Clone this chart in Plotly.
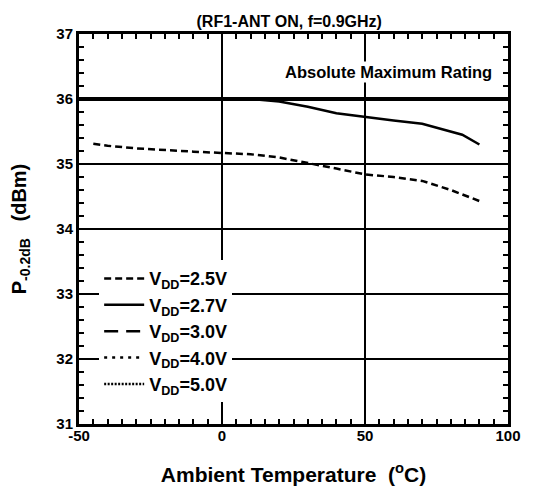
import plotly.graph_objects as go

# ---- data ----
temp_25 = [-45, -40, -30, -20, -10, 0, 10, 20, 30, 40, 50, 60, 70, 80, 90]
p_25 = [35.31, 35.28, 35.24, 35.21, 35.19, 35.17, 35.15, 35.10, 35.02, 34.93, 34.84, 34.80, 34.74, 34.60, 34.43]

temp_27 = [-45, -30, -15, 0, 10, 20, 30, 40, 50, 60, 70, 77, 84, 90]
p_27 = [36.0, 36.0, 36.0, 36.0, 36.0, 35.96, 35.88, 35.78, 35.72, 35.67, 35.62, 35.53, 35.45, 35.30]

temp_hi = [-45, 0, 50, 90]
p_30 = [36.0, 36.0, 36.0, 36.0]
p_40 = [36.0, 36.0, 36.0, 36.0]
p_50 = [36.0, 36.0, 36.0, 36.0]

ABS_MAX = 36
series_names = ["<b>V<sub>DD</sub>=2.5V</b>", "<b>V<sub>DD</sub>=2.7V</b>", "<b>V<sub>DD</sub>=3.0V</b>",
                "<b>V<sub>DD</sub>=4.0V</b>", "<b>V<sub>DD</sub>=5.0V</b>"]

x_ticks = [-50, 0, 50, 100]
y_ticks = [31, 32, 33, 34, 35, 36, 37]
x_range = [-50, 100]
y_range = [31, 37]

FONT = "Liberation Sans"

fig = go.Figure()

fig.add_hline(y=ABS_MAX, line=dict(color="black", width=4), layer="above")

fig.add_trace(go.Scatter(x=temp_hi, y=p_50, mode="lines", name=series_names[4],
                         line=dict(color="black", width=2.5, dash="2px,1.5px")))
fig.add_trace(go.Scatter(x=temp_hi, y=p_40, mode="lines", name=series_names[3],
                         line=dict(color="black", width=2.5, dash="3px,5px")))
fig.add_trace(go.Scatter(x=temp_hi, y=p_30, mode="lines", name=series_names[2],
                         line=dict(color="black", width=2.5, dash="14px,8px")))
fig.add_trace(go.Scatter(x=temp_27, y=p_27, mode="lines", name=series_names[1],
                         line=dict(color="black", width=2.5)))
fig.add_trace(go.Scatter(x=temp_25, y=p_25, mode="lines", name=series_names[0],
                         line=dict(color="black", width=2.5, dash="7px,4px")))

fig.add_annotation(x=1.0, y=36.41, xref="paper", yref="y", xanchor="right",
                   xshift=-14, text="<b>Absolute Maximum Rating</b>", showarrow=False,
                   bgcolor="white", borderpad=1,
                   font=dict(family=FONT, size=16.5, color="black"))

fig.update_layout(
    width=548, height=489,
    margin=dict(l=71, r=48, t=26, b=73),
    paper_bgcolor="white", plot_bgcolor="white",
    font=dict(family=FONT, color="black"),
    title=dict(text="<b>(RF1-ANT ON, f=0.9GHz)</b>", x=0.49, xref="paper", xanchor="center",
               y=0.972, yref="container", yanchor="middle",
               font=dict(family=FONT, size=16, color="black")),
    showlegend=True,
    legend=dict(x=0.047, y=0.42, xanchor="left", yanchor="top",
                bgcolor="white", borderwidth=0, traceorder="reversed",
                font=dict(family=FONT, size=18, color="black"),
                tracegroupgap=0, itemwidth=40),
)

fig.update_xaxes(
    range=x_range, tickvals=x_ticks, ticktext=["<b>%d</b>" % v for v in x_ticks],
    tickfont=dict(family=FONT, size=15, color="black"),
    showgrid=True, gridcolor="black", gridwidth=2,
    showline=True, linecolor="black", linewidth=3, mirror="ticks",
    ticks="inside", ticklen=8, tickwidth=2, tickcolor="black",
    minor=dict(dtick=5, ticks="inside", ticklen=5, tickwidth=1.5, tickcolor="black", showgrid=False),
    zeroline=False, automargin=False, ticklabelstandoff=-4,
    title=dict(text="<b>Ambient Temperature  (<sup>o</sup>C)</b>",
               font=dict(family=FONT, size=21, color="black"), standoff=25),
)
fig.update_yaxes(
    range=y_range, tickvals=y_ticks, ticktext=["<b>%d</b>" % v for v in y_ticks],
    tickfont=dict(family=FONT, size=15, color="black"),
    showgrid=True, gridcolor="black", gridwidth=2,
    showline=True, linecolor="black", linewidth=3, mirror="ticks",
    ticks="inside", ticklen=8, tickwidth=2, tickcolor="black",
    minor=dict(dtick=0.2, ticks="inside", ticklen=5, tickwidth=1.5, tickcolor="black", showgrid=False),
    zeroline=False, automargin=False,
    title=dict(text="<b>P<sub>-0.2dB</sub>   (dBm)</b>",
               font=dict(family=FONT, size=20, color="black"), standoff=26),
)

fig.write_html("out.html")
